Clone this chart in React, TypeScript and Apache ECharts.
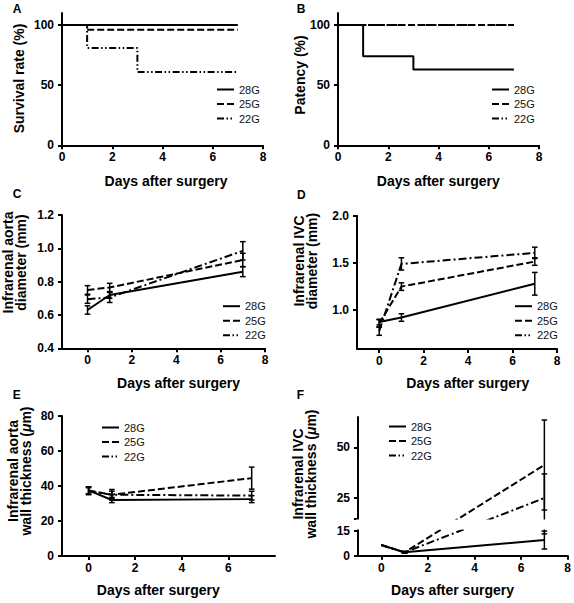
import React, { useEffect, useRef } from "react";
import * as echarts from "echarts";

// ---------------- data ----------------
const GROUPS = ["28G", "25G", "22G"];
const DAYS = [0, 1, 7];
const X_TICKS = [0, 2, 4, 6, 8];
const X_TICKS_E = [0, 2, 4, 6];

// A: survival (Kaplan-Meier)
const survivalDays28 = [0, 7];
const survival28 = [100, 100];
const survivalDays25 = [0, 1, 7];
const survival25 = [100, 96, 96];
const survivalDays22 = [0, 1, 3, 7];
const survival22 = [100, 81, 61, 61];

// B: patency (Kaplan-Meier)
const patencyDays28 = [0, 1, 3, 7];
const patency28 = [100, 74, 63, 63];
const patencyDays25 = [0, 7];
const patency25 = [100, 100];
const patencyDays22 = [0, 7];
const patency22 = [100, 100];
const KM_Y_TICKS = [0, 50, 100];

// C: infrarenal aorta diameter (mm)
const aortaDiam28 = [0.63, 0.72, 0.86];
const aortaDiamSd28 = [0.025, 0.02, 0.03];
const aortaDiam25 = [0.75, 0.765, 0.93];
const aortaDiamSd25 = [0.026, 0.025, 0.04];
const aortaDiam22 = [0.695, 0.705, 0.985];
const aortaDiamSd22 = [0.025, 0.03, 0.055];
const C_Y_TICKS = [0.4, 0.6, 0.8, 1.0, 1.2];

// D: infrarenal IVC diameter (mm)
const ivcDiam28 = [0.875, 0.923, 1.28];
const ivcDiamSd28 = [0.03, 0.04, 0.12];
const ivcDiam25 = [0.86, 1.25, 1.515];
const ivcDiamSd25 = [0.04, 0.04, 0.04];
const ivcDiam22 = [0.78, 1.49, 1.607];
const ivcDiamSd22 = [0.045, 0.065, 0.06];
const D_Y_TICKS = [1.0, 1.5, 2.0];

// E: infrarenal aorta wall thickness (um)
const aortaWall28 = [37.5, 32, 32.5];
const aortaWallSd28 = [2, 1.5, 2];
const aortaWall25 = [37.5, 35, 44.5];
const aortaWallSd25 = [2, 3, 6.3];
const aortaWall22 = [37, 35, 34.5];
const aortaWallSd22 = [2, 2, 2.5];
const E_Y_TICKS = [0, 20, 40, 60, 80];

// F: infrarenal IVC wall thickness (um), broken axis
const ivcWall28 = [6.4, 2, 9.4];
const ivcWallSd28 = [0, 0.5, 5.4];
const ivcWall25 = [6.4, 2, 41.3];
const ivcWallSd25 = [0, 0.5, 22.2];
const ivcWall22 = [6.4, 2, 25];
const ivcWallSd22 = [0, 0.5, 11.9];
const F_Y_TICKS = [0, 15, 25, 50];
const F_LOWER_MAX = 15;
const F_UPPER_MIN = 15;
const F_UPPER_MAX = 65;

// ---------------- styling / layout ----------------
const FONT = '"Liberation Sans", Arial, Helvetica, sans-serif';
const BLACK = "#000";
const F_LOWER_PX = 25;
const F_GAP_PX = 12.4;
const F_UPPER_PX = 101.3;

function brk(v: number): number {
  return v <= F_LOWER_MAX
    ? (v * F_LOWER_PX) / F_LOWER_MAX
    : F_LOWER_PX + F_GAP_PX + ((v - F_UPPER_MIN) * F_UPPER_PX) / (F_UPPER_MAX - F_UPPER_MIN);
}

const DASH_25: any = [7, 3];
const DASH_22: any = [8, 3, 2, 3];
const DASH_22_KM: any = [7, 2.5, 1.5, 2.5, 1.5, 2.5];

type PanelDef = {
  grid: { left: number; top: number; width: number; height: number };
  x: [number, number];
  xTicks: number[];
  y: [number, number];
  yTicks: number[];
  yTickDisplay?: number[];
  yExtraTicks?: number[];
  fmt: (v: number) => string;
  legend: { left: number; top: number };
};

const fBreakTickValues = F_Y_TICKS.map((t) => brk(t));

const PANELS: PanelDef[] = [
  { grid: { left: 62, top: 13, width: 201, height: 132.3 }, x: [0, 8], xTicks: X_TICKS, y: [0, 110], yTicks: KM_Y_TICKS, fmt: (v) => String(v), legend: { left: 216, top: 84 } },
  { grid: { left: 338, top: 13, width: 201, height: 132.3 }, x: [0, 8], xTicks: X_TICKS, y: [0, 110], yTicks: KM_Y_TICKS, fmt: (v) => String(v), legend: { left: 491, top: 84 } },
  { grid: { left: 62, top: 215, width: 203, height: 133.3 }, x: [-1.15, 8], xTicks: X_TICKS, y: [0.4, 1.2], yTicks: C_Y_TICKS, fmt: (v) => v.toFixed(1), legend: { left: 222, top: 300.7 } },
  { grid: { left: 357, top: 215.7, width: 200, height: 133.3 }, x: [-1, 8], xTicks: X_TICKS, y: [0.59, 2.0], yTicks: D_Y_TICKS, fmt: (v) => v.toFixed(1), legend: { left: 514, top: 300.7 } },
  { grid: { left: 62, top: 416, width: 213, height: 140 }, x: [-1.14, 8], xTicks: X_TICKS_E, y: [0, 80], yTicks: E_Y_TICKS, fmt: (v) => String(v), legend: { left: 101, top: 422 } },
  {
    grid: { left: 358, top: 417, width: 210, height: 138.7 },
    x: [-1, 8],
    xTicks: X_TICKS,
    y: [0, brk(F_UPPER_MAX)],
    yTicks: fBreakTickValues,
    yExtraTicks: [F_LOWER_PX + F_GAP_PX],
    fmt: (v) => {
      const i = fBreakTickValues.findIndex((d) => Math.abs(d - v) < 0.01);
      return i >= 0 ? String(F_Y_TICKS[i]) : "";
    },
    legend: { left: 388, top: 421 },
  },
];

function lineSeries(name: string, gi: number, xs: number[], ys: number[], dash: any, step?: string, tf = (v: number) => v) {
  return {
    type: "line",
    name,
    xAxisIndex: gi,
    yAxisIndex: gi,
    data: xs.map((x, i) => [x, tf(ys[i])]),
    step: step || false,
    symbol: "none",
    silent: true,
    z: 3,
    lineStyle: { color: BLACK, width: 2, type: dash },
    itemStyle: { color: BLACK },
  };
}

function errSeries(gi: number, means: number[], sds: number[], tf = (v: number) => v) {
  const data = DAYS.map((d, i) => [d, tf(means[i] - sds[i]), tf(means[i] + sds[i]), sds[i]]).filter((r) => r[3] > 0);
  return {
    type: "custom",
    name: "err" + gi,
    xAxisIndex: gi,
    yAxisIndex: gi,
    silent: true,
    z: 4,
    data,
    renderItem: (params: any, api: any) => {
      const x = api.value(0);
      const p1 = api.coord([x, api.value(1)]);
      const p2 = api.coord([x, api.value(2)]);
      const w = 2.8;
      const st = { stroke: BLACK, lineWidth: 1.5 };
      return {
        type: "group",
        children: [
          { type: "line", shape: { x1: p1[0], y1: p1[1], x2: p2[0], y2: p2[1] }, style: st },
          { type: "line", shape: { x1: p1[0] - w, y1: p1[1], x2: p1[0] + w, y2: p1[1] }, style: st },
          { type: "line", shape: { x1: p2[0] - w, y1: p2[1], x2: p2[0] + w, y2: p2[1] }, style: st },
        ],
      };
    },
  };
}

function buildOption(): any {
  const grids = PANELS.map((p) => ({ ...p.grid, containLabel: false }));
  const labelStyle = { fontFamily: FONT, fontWeight: "bold", fontSize: 12, color: BLACK };
  const xAxes = PANELS.map((p, i) => ({
    type: "value",
    gridIndex: i,
    min: p.x[0],
    max: p.x[1],
    axisLine: { onZero: false, lineStyle: { color: BLACK, width: 2 } },
    axisTick: { length: 4, lineStyle: { color: BLACK, width: 2 }, customValues: p.xTicks },
    axisLabel: { ...labelStyle, margin: 6, customValues: p.xTicks, formatter: (v: number) => String(v) },
    splitLine: { show: false },
  }));
  const yAxes = PANELS.map((p, i) => ({
    type: "value",
    gridIndex: i,
    min: p.y[0],
    max: p.y[1],
    axisLine: { onZero: false, lineStyle: { color: BLACK, width: 2 } },
    axisTick: {
      length: 4,
      lineStyle: { color: BLACK, width: 2 },
      customValues: p.yExtraTicks ? [...p.yTicks, ...p.yExtraTicks] : p.yTicks,
    },
    axisLabel: { ...labelStyle, margin: 8, customValues: p.yTicks, formatter: p.fmt },
    splitLine: { show: false },
  }));

  const series: any[] = [
    // A
    lineSeries("28G", 0, survivalDays28, survival28, "solid", "end"),
    lineSeries("25G", 0, survivalDays25, survival25, DASH_25, "end"),
    lineSeries("22G", 0, survivalDays22, survival22, DASH_22_KM, "end"),
    // B
    lineSeries("28G", 1, patencyDays28, patency28, "solid", "end"),
    lineSeries("25G", 1, patencyDays25, patency25, DASH_25, "end"),
    lineSeries("22G", 1, patencyDays22, patency22, DASH_22_KM, "end"),
    // C
    lineSeries("28G", 2, DAYS, aortaDiam28, "solid"),
    lineSeries("25G", 2, DAYS, aortaDiam25, DASH_25),
    lineSeries("22G", 2, DAYS, aortaDiam22, DASH_22),
    errSeries(2, aortaDiam28, aortaDiamSd28),
    errSeries(2, aortaDiam25, aortaDiamSd25),
    errSeries(2, aortaDiam22, aortaDiamSd22),
    // D
    lineSeries("28G", 3, DAYS, ivcDiam28, "solid"),
    lineSeries("25G", 3, DAYS, ivcDiam25, DASH_25),
    lineSeries("22G", 3, DAYS, ivcDiam22, DASH_22),
    errSeries(3, ivcDiam28, ivcDiamSd28),
    errSeries(3, ivcDiam25, ivcDiamSd25),
    errSeries(3, ivcDiam22, ivcDiamSd22),
    // E
    lineSeries("28G", 4, DAYS, aortaWall28, "solid"),
    lineSeries("25G", 4, DAYS, aortaWall25, DASH_25),
    lineSeries("22G", 4, DAYS, aortaWall22, DASH_22),
    errSeries(4, aortaWall28, aortaWallSd28),
    errSeries(4, aortaWall25, aortaWallSd25),
    errSeries(4, aortaWall22, aortaWallSd22),
    // F (broken axis)
    lineSeries("28G", 5, DAYS, ivcWall28, "solid", undefined, brk),
    lineSeries("25G", 5, DAYS, ivcWall25, DASH_25, undefined, brk),
    lineSeries("22G", 5, DAYS, ivcWall22, DASH_22, undefined, brk),
    errSeries(5, ivcWall28, ivcWallSd28, brk),
    errSeries(5, ivcWall25, ivcWallSd25, brk),
    errSeries(5, ivcWall22, ivcWallSd22, brk),
    {
      type: "custom",
      name: "axisBreak",
      xAxisIndex: 5,
      yAxisIndex: 5,
      silent: true,
      z: 20,
      data: [[0, 0]],
      renderItem: (params: any, api: any) => {
        const p = PANELS[5];
        const a = api.coord([p.x[0], F_LOWER_PX]);
        const b = api.coord([p.x[1], F_LOWER_PX + F_GAP_PX]);
        return {
          type: "rect",
          shape: { x: a[0] - 2, y: b[1] + 1.2, width: b[0] - a[0] + 6, height: a[1] - b[1] - 2.4 },
          style: { fill: "#fff" },
        };
      },
    },
  ];

  const legends = PANELS.map((p) => ({
    data: GROUPS,
    orient: "vertical",
    left: p.legend.left,
    top: p.legend.top,
    padding: 0,
    itemWidth: 17,
    itemHeight: 12,
    itemGap: 3.5,
    selectedMode: false,
    itemStyle: { opacity: 0 },
    textStyle: { fontFamily: FONT, fontSize: 11, color: "#111", padding: [0, 0, 0, 0] },
  }));

  const letter = (t: string, x: number, y: number) => ({
    type: "text",
    x,
    y,
    silent: true,
    style: { text: t, fontFamily: FONT, fontWeight: "bold", fontSize: 12, fill: BLACK, align: "left", verticalAlign: "middle" },
  });
  const xTitle = (x: number, y: number) => ({
    type: "text",
    x,
    y,
    silent: true,
    style: { text: "Days after surgery", fontFamily: FONT, fontWeight: "bold", fontSize: 14, fill: BLACK, align: "center", verticalAlign: "middle" },
  });
  const yTitle = (text: string, x: number, y: number) => ({
    type: "text",
    x,
    y,
    rotation: Math.PI / 2,
    silent: true,
    style: {
      text,
      fontFamily: FONT,
      fontWeight: "bold",
      fontSize: 14,
      lineHeight: 13,
      fill: BLACK,
      align: "center",
      verticalAlign: "middle",
      rich: {
        i: { fontFamily: FONT, fontWeight: "bold", fontStyle: "italic", fontSize: 14, lineHeight: 13, fill: BLACK },
      },
    },
  });

  const graphics = [
    letter("A", 12.7, 9.2),
    letter("B", 296.7, 9.2),
    letter("C", 12.7, 194.2),
    letter("D", 297, 195),
    letter("E", 12.7, 394.7),
    letter("F", 296.7, 394.7),
    xTitle(166, 181.2),
    xTitle(438.3, 181),
    xTitle(178.5, 382.7),
    xTitle(467.8, 382.5),
    xTitle(158.3, 590.3),
    xTitle(452.5, 590),
    yTitle("Survival rate (%)", 19, 78.5),
    yTitle("Patency (%)", 299.5, 75),
    yTitle("Infrarenal aorta\ndiameter (mm)", 14, 262.5),
    yTitle("Infrarenal IVC\ndiameter (mm)", 305.5, 261),
    yTitle("Infrarenal aorta\nwall thickness ({i|μ}m)", 19.5, 471),
    yTitle("Infrarenal IVC\nwall thickness ({i|μ}m)", 304.5, 474),
  ];

  return {
    animation: false,
    backgroundColor: "#fff",
    grid: grids,
    xAxis: xAxes,
    yAxis: yAxes,
    legend: legends,
    series,
    graphic: { elements: graphics },
  };
}

export default function App() {
  const ref = useRef<HTMLDivElement>(null);
  useEffect(() => {
    if (!ref.current) return;
    const chart = echarts.init(ref.current, null, { renderer: "svg" });
    chart.setOption(buildOption());
    return () => chart.dispose();
  }, []);
  return (
    <div
      ref={ref}
      style={{ position: "absolute", left: 0, top: 0, width: 574, height: 603, background: "#fff" }}
    />
  );
}
